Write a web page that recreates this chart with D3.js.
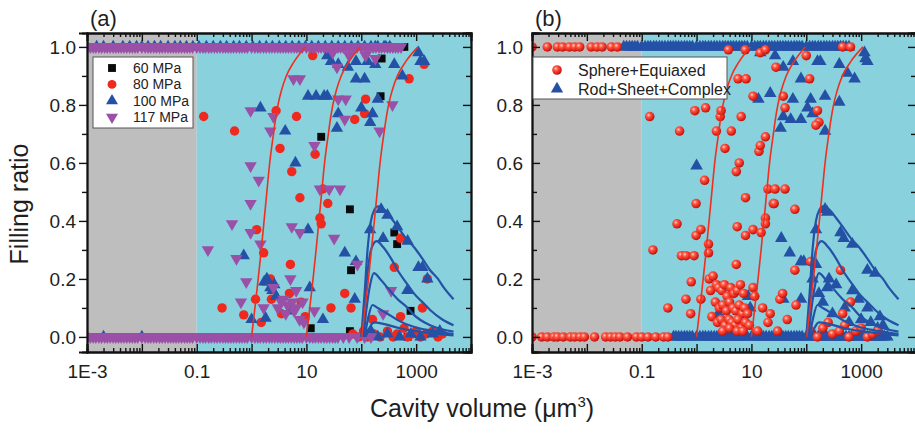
<!DOCTYPE html>
<html><head><meta charset="utf-8">
<script src="https://cdn.jsdelivr.net/npm/d3@7"></script>
<style>body{margin:0;background:#fff}svg{display:block}text{font-family:"Liberation Sans",Arial,Helvetica,sans-serif}</style>
</head><body><svg id="c" width="915" height="435"></svg>
<script>
// ---------------- DATA ----------------
const xTickLabels = [[1e-3,"1E-3"],[0.1,"0.1"],[10,"10"],[1000,"1000"]];
const yMajorTicks = [0,0.2,0.4,0.6,0.8,1.0];
const yMinorTicks = [0.1,0.3,0.5,0.7,0.9];
const grayRange = [1e-3,0.1];
const cyanRange = [0.1,1e4];
const bandTop = 1.0, bandBottom = 0.0;   // filling ratio of the dense bands

// Panel (a) series [volume um^3, filling ratio]
const a60 = [[0.0028,0],[0.0016,1.0],[12,0.03],[18.6,0.69],[62,0.44],[65,0.23],[62,0.02],[225,0.83],[235,0.96],
  [400,0.36],[450,0.32],[610,1.0],[790,0.09],[1000,0.01],[700,0.0]];
const a80 = [[0.001,0],[0.134,0.76],[0.49,0.71],[2.8,0.78],[6.6,0.76],[3.3,0.65],[5.4,0.57],[7.6,0.48],[14.4,0.63],
  [20,0.51],[24.5,0.46],[17.6,0.41],[18.6,0.39],[76,0.75],[120,0.82],[115,0.77],[745,0.89],[1400,0.94],[13,0.97],
  [280,1.0],[330,1.0],[0.29,0.10],[0.72,0.076],[1.24,0.37],[1.66,0.29],[1.18,0.13],[2.3,0.13],[2.2,0.20],[5.1,0.25],
  [4.9,0.15],[65,0.10],[400,0.24],[520,0.34],[1300,0.10],[1600,0.20],[520,0.07],[50,0.15],[28,0.10],[160,0.06],
  [3.5,0.08],[1.5,0.05],[8,0.12],[9.5,0.07],
  [70,0.01],[90,0.0],[110,0.02],[130,0.0],[170,0.01],[220,0.0],[300,0.02],[380,0.0],[450,0.01],[600,0.03],[700,0.0],
  [850,0.01],[1000,0.02],[1200,0.0],[1500,0.01],[2000,0.02],[2500,0.0],[3000,0.01]];
const a100 = [[0.002,0],[0.01,0],
  [1.45,0.79],[4.1,0.71],[6.3,0.60],[10.7,0.83],[15,0.83],[21,0.83],[24,0.83],[24,0.97],[38,0.94],[57,0.93],[80,0.89],
  [115,0.89],[38,0.77],[36,0.72],[100,0.79],[160,0.77],[145,0.74],[200,0.82],[180,1.0],[280,1.0],[400,0.94],[560,0.90],
  [1100,0.98],[1200,0.95],[1400,0.95],[130,0.95],[180,0.94],[28,0.95],[80,0.95],
  [0.72,0.28],[1.9,0.20],[2.6,0.18],[2.2,0.17],[10.7,0.37],[11.5,0.17],[50,0.29],[80,0.26],[76,0.13],[1,0.06],
  [1.8,0.065],[20,0.06],[4.9,0.09],[1100,0.24],[690,0.16],[250,0.34],[145,0.37],[1600,0.20],[2700,0.02],
  [1.7,0.19],[2.0,0.19],[2.4,0.16],[2.8,0.14],[230,0.44],[300,0.42],[450,0.38],[700,0.33],[1300,0.24],
  [120,0.01],[150,0.02],[200,0.0],[300,0.01],[500,0.0],[800,0.01],[1200,0.0],[2000,0.01]];
const a100TopBand = [0.001,0.0015,0.002,0.003,0.0045,0.006,0.008,0.01,0.013,0.017,0.022,0.03,0.04,0.05,0.065,0.085,
  0.11,0.15,0.2,0.27,0.35,0.47,0.6,0.8,1.05,1.4,1.85,2.4,3.2,4.2,5.5,7.3,9.6,12.5,16.5,22,29,38,50,66,87,115,150,200,260,330];
const a117 = [[0.96,0.78],[2.5,0.76],[2.2,0.71],[5.8,0.89],[7.6,0.89],[0.96,0.59],[1.35,0.54],[0.96,0.46],[14,0.66],
  [38,0.82],[52,0.82],[50,0.75],[180,0.96],[215,0.71],[370,0.80],[36,0.93],[17.6,0.51],[26,0.51],[41,0.51],
  [0.16,0.30],[0.44,0.39],[0.53,0.27],[0.64,0.12],[0.8,0.19],[0.96,0.36],[1.45,0.32],[1.66,0.10],[2.5,0.17],
  [3.8,0.13],[5.1,0.20],[5.4,0.38],[7.6,0.36],[6.5,0.16],[6,0.09],[4.2,0.08],[14,0.09],[32,0.34],[85,0.25],
  [350,0.16],[250,0.08],[3,0.1],[3.5,0.12],[4.5,0.11],[5.5,0.12],[6.5,0.1],[7.5,0.06],[8.5,0.12],[9,0.05],
  [60,0.97],[120,0.97],[30,0.98]];
const a117TopBand = [
  0.001,0.00115,0.0013,0.00145,0.00165,0.00185,0.0021,0.00235,0.00265,0.003,0.00335,0.00375,0.0042,0.0047,0.0053,0.006,0.0067,0.0075,0.0084,
  0.01,0.0115,0.013,0.0145,0.0165,0.0185,0.021,0.0235,0.0265,0.03,0.0335,0.0375,0.042,0.047,0.053,0.06,0.067,0.075,0.084,
  0.1,0.115,0.13,0.145,0.165,0.185,0.21,0.235,0.265,0.3,0.335,0.375,0.42,0.47,0.53,0.6,0.67,0.75,0.84,
  1,1.15,1.3,1.45,1.65,1.85,2.1,2.35,2.65,3,3.35,3.75,4.2,4.7,5.3,6,6.7,7.5,8.4,
  10,11.5,13,14.5,16.5,18.5,21,23.5,26.5,30,33.5,37.5,42,47,53,60,67,75,84,
  100,115,130,145,165,185,210,235,265,300,335,375,420,470,530];
const a117BottomBand = [
  0.001,0.00115,0.0013,0.00145,0.00165,0.00185,0.0021,0.00235,0.00265,0.003,0.00335,0.00375,0.0042,0.0047,0.0053,0.006,0.0067,0.0075,0.0084,
  0.01,0.0115,0.013,0.0145,0.0165,0.0185,0.021,0.0235,0.0265,0.03,0.0335,0.0375,0.042,0.047,0.053,0.06,0.067,0.075,0.084,
  0.1,0.115,0.13,0.145,0.165,0.185,0.21,0.235,0.265,0.3,0.335,0.375,0.42,0.47,0.53,0.6,0.67,0.75,0.84,
  1,1.15,1.3,1.45,1.65,1.85,2.1,2.35,2.65,3,3.35,3.75,4.2,4.7,5.3,6,6.7,7.5,8.4,
  10,11.5,13,14.5,16.5,18.5,21,23.5,26.5,30,33.5,37.5,47,60,84,115,150];

// Panel (b) series
const bSphere = [[0.001,0],[0.0015,0],[0.0019,0],[0.0025,0],[0.0029,0],[0.0037,0],[0.005,0],[0.006,0],[0.0075,0],
  [0.009,0],[0.0138,0],[0.022,0],[0.027,0],[0.033,0],[0.04,0],[0.055,0],[0.08,0],[0.1,0],[0.13,0],[0.18,0],[0.25,0],[0.3,0],
  [0.001,1],[0.0019,1],[0.0029,1],[0.0036,1],[0.0048,1],[0.006,1],[0.0074,1],[0.012,1],[0.0153,1],[0.019,1],[0.028,1],[0.036,1],
  [0.14,0.76],[0.49,0.71],[0.93,0.78],[1.46,0.79],[0.98,0.46],[1.4,0.54],[2.3,0.71],[2.7,0.76],[2.8,0.78],[3.3,0.65],
  [4.3,0.71],[6.5,0.76],[6,0.60],[5.3,0.57],[7.8,0.48],[5.7,0.89],[8,0.89],[10.7,0.83],[13.7,0.64],[14.5,0.66],
  [18,0.69],[20,0.51],[27,0.51],[41,0.51],[25,0.46],[62,0.44],[38,0.83],[41,0.79],[28,0.93],[115,0.89],[160,0.78],
  [170,0.74],[150,0.73],[100,0.97],[460,1.0],[640,1.0],[3.8,0.99],[7.7,0.99],[14.5,0.98],[18,0.99],
  [0.16,0.30],[0.44,0.39],[0.3,0.10],[0.53,0.28],[0.64,0.28],[0.9,0.28],[0.8,0.19],[0.64,0.13],[0.78,0.08],
  [0.98,0.35],[1.2,0.37],[1.65,0.32],[1.65,0.29],[1.2,0.13],[5.5,0.38],[7.8,0.35],[5.3,0.25],[10.7,0.37],
  [15,0.36],[18,0.41],[18,0.39],[26,0.46],[10.7,0.17],[11.5,0.14],[16,0.10],[22,0.08],[33,0.13],[37,0.15],
  [45,0.06],[62,0.23],[65,0.11],[120,0.26],[420,0.23],[460,0.08],[640,0.12],
  [1.7,0.20],[2.0,0.21],[2.3,0.18],[1.8,0.16],[2.5,0.17],[2.9,0.16],[3.2,0.18],[3.6,0.14],[4.2,0.17],[4.8,0.15],
  [5.5,0.16],[6.3,0.18],[7.2,0.15],[2.2,0.12],[2.6,0.10],[3.0,0.11],[3.5,0.09],[4.0,0.12],[4.6,0.10],[5.2,0.09],
  [6.0,0.11],[6.8,0.08],[7.5,0.10],[1.9,0.07],[2.4,0.05],[2.8,0.06],[3.3,0.04],[3.9,0.06],[4.4,0.05],[5.0,0.04],
  [5.7,0.06],[6.5,0.03],[7.8,0.05],[8.5,0.08],[9.2,0.04],[3.0,0.02],[4.0,0.03],[5.5,0.02],[7,0.02],
  [13,0.02],[20,0.05],[30,0.02],[120,0.02],[160,0.0],[200,0.03],[250,0.05],[300,0.01],[400,0.02],[500,0.04],
  [600,0.0],[800,0.02],[1000,0.03],[1300,0.0],[1600,0.01],[2000,0.02]];
const bRod = [
  [1.0,0.59],[13.4,0.82],[22,0.84],[38,0.76],[34,0.72],[52,0.75],[80,0.75],[57,0.82],[105,0.79],[120,0.82],
  [130,0.77],[220,0.83],[220,0.71],[400,0.81],[14.5,0.98],[27,0.97],[38,0.93],[57,0.95],[80,0.89],[160,0.95],
  [180,0.95],[400,0.94],[560,0.91],[760,0.89],[1150,0.98],[1300,0.95],[1200,0.96],
  [35,0.34],[50,0.29],[80,0.26],[90,0.26],[38,0.13],[80,0.13],[8.7,0.14],[9.5,0.10],[4.2,0.10],[2.5,0.08],
  [150,0.37],[220,0.44],[240,0.43],[420,0.36],[480,0.34],[690,0.32],[1300,0.23],[1800,0.22],[240,0.17],
  [690,0.16],[1300,0.10],[2200,0.07],[130,0.2],[150,0.25],[170,0.15],[200,0.12],[260,0.2],[300,0.08],[350,0.18],
  [500,0.1],[600,0.05],[900,0.13],[1000,0.06],[1500,0.05],[2000,0.03],[2500,0.04]];
const bRodTopBand = [0.047,0.053,0.06,0.067,0.075,0.084,
  0.1,0.115,0.13,0.145,0.165,0.185,0.21,0.235,0.265,0.3,0.335,0.375,0.42,0.47,0.53,0.6,0.67,0.75,0.84,
  1,1.15,1.3,1.45,1.65,1.85,2.1,2.35,2.65,3,3.35,3.75,4.2,4.7,5.3,6,6.7,7.5,8.4,
  10,11.5,13,14.5,16.5,18.5,21,23.5,26.5,30,33.5,37.5,42,47,53,60,67,75,84,
  100,115,130,145,165,185,210,235,265,300,335,375,420,470,530,600];
const bRodBottomBand = [0.38,0.42,0.47,0.53,0.6,0.67,0.75,0.84,
  1,1.15,1.3,1.45,1.65,1.85,2.1,2.35,2.65,3,3.35,3.75,4.2,4.7,5.3,6,6.7,7.5,8.4,
  10,11.5,13,14.5,16.5,18.5,21,23.5,26.5,30,33.5,37.5,42,47,53,60,67,75,84,
  100,115,130,145,165,185,210,235,265,300,335,375,420,470,530,600,670,750,840,
  1000,1150,1300,1450,1650,1850,2100,2350,2650,3000];

// Fitted curves (same in both panels)
const redCurve1 = [[1.0,0],[1.15,0.1],[1.32,0.2],[1.5,0.3],[1.69,0.4],[1.9,0.5],[2.14,0.6],[2.51,0.7],[2.73,0.75],[3.03,0.8],[3.5,0.85],[4.3,0.9],[6.0,0.95],[9.5,1.0]];
const redCurve2 = [[10,0],[11.5,0.1],[13.2,0.2],[15,0.3],[16.9,0.4],[19,0.5],[21.4,0.6],[25.1,0.7],[27.3,0.75],[30.3,0.8],[35,0.85],[43,0.9],[60,0.95],[96,1.0]];
const redCurve3 = [[102,0],[117,0.1],[135,0.2],[153,0.3],[173,0.4],[195,0.5],[220,0.6],[258,0.7],[282,0.75],[314,0.8],[366,0.85],[455,0.9],[650,0.95],[1080,1.0]];
const blueCurve1 = [[100,0],[115,0.15],[130,0.3],[150,0.4],[175,0.44],[200,0.45],[260,0.44],[350,0.41],[460,0.38],[650,0.34],[910,0.31],[1300,0.27],[1800,0.23],[2500,0.2],[3200,0.17],[4800,0.13]];
const blueCurve2 = [[105,0],[120,0.15],[140,0.27],[165,0.32],[190,0.33],[250,0.31],[350,0.27],[460,0.23],[700,0.18],[910,0.15],[1300,0.12],[1800,0.093],[3000,0.06],[4800,0.04]];
const blueCurve3 = [[110,0],[125,0.1],[145,0.18],[170,0.22],[220,0.2],[300,0.17],[460,0.13],[700,0.1],[910,0.076],[1800,0.04],[4800,0.018]];
const blueCurve4 = [[115,0],[135,0.07],[160,0.11],[200,0.1],[300,0.08],[460,0.058],[900,0.035],[1500,0.025],[4800,0.01]];
const blueCurve5 = [[120,0],[140,0.03],[170,0.05],[250,0.045],[500,0.03],[1000,0.02],[4800,0.005]];

const legendA = ["60 MPa","80 MPa","100 MPa","117 MPa"];
const legendB = ["Sphere+Equiaxed","Rod+Sheet+Complex"];

// ---------------- DRAW ----------------
const svg = d3.select("#c");
const defs = svg.append("defs");
const grad = defs.append("radialGradient").attr("id","sph").attr("cx","38%").attr("cy","35%").attr("r","65%");
grad.append("stop").attr("offset","0%").attr("stop-color","#ffd8d0");
grad.append("stop").attr("offset","30%").attr("stop-color","#ff5a48");
grad.append("stop").attr("offset","75%").attr("stop-color","#e52419");
grad.append("stop").attr("offset","100%").attr("stop-color","#b01810");

const C = {gray:"#bebebe", cyan:"#88d1dd", red:"#f0291f", blue:"#2451a6", purple:"#9b50a8", black:"#0a0a0a", redLine:"#ee3020", blueLine:"#2352a6"};
const TOP=33, BOT=352, PW=384;
const band = (vals, f) => vals.map(v => [v, f]);

function sym(type,size){return d3.symbol().type(type).size(size)();}

function panel(x0, id, series, leftIn, label){
  const x = d3.scaleLog().domain([1e-3,1e4]).range([x0,x0+PW]);
  const y = d3.scaleLinear().domain([-0.052,1.048]).range([BOT,TOP]);
  const g = svg.append("g");
  defs.append("clipPath").attr("id","clip"+id).append("rect")
    .attr("x",x0).attr("y",TOP).attr("width",PW).attr("height",BOT-TOP);
  g.append("rect").attr("x",x(grayRange[0])).attr("y",TOP).attr("width",x(grayRange[1])-x(grayRange[0])).attr("height",BOT-TOP).attr("fill",C.gray);
  g.append("rect").attr("x",x(cyanRange[0])).attr("y",TOP).attr("width",x(cyanRange[1])-x(cyanRange[0])).attr("height",BOT-TOP).attr("fill",C.cyan);
  const pg = g.append("g").attr("clip-path","url(#clip"+id+")");
  series.forEach(s=>{
    pg.append("g").selectAll("path").data(s.data).join("path")
      .attr("d",sym(s.type,s.size))
      .attr("transform",d=>`translate(${x(d[0])},${y(d[1])})`+(s.rot?" rotate(180)":""))
      .attr("fill",s.fill).attr("stroke",s.stroke||"none").attr("stroke-width",0.4);
  });
  const line = d3.line().x(d=>x(d[0])).y(d=>y(d[1])).curve(d3.curveMonotoneX);
  [blueCurve1,blueCurve2,blueCurve3,blueCurve4,blueCurve5].forEach(c=>
    pg.append("path").attr("d",line(c)).attr("fill","none").attr("stroke",C.blueLine).attr("stroke-width",2.2));
  [redCurve1,redCurve2,redCurve3].forEach(c=>
    pg.append("path").attr("d",line(c)).attr("fill","none").attr("stroke",C.redLine).attr("stroke-width",1.6));

  // axes
  const majors = d3.range(-3,5).map(e=>Math.pow(10,e));
  const minors = x.ticks().filter(v=>!majors.some(m=>Math.abs(m-v)/m<1e-6));
  const styleAxis = a=>{a.select(".domain").attr("stroke","#111").attr("stroke-width",1.8);
    a.selectAll(".tick line").attr("stroke","#111").attr("stroke-width",1.4);
    a.selectAll("text").attr("font-size",19).attr("fill","#1e1e1e").attr("font-family",'"Liberation Sans",Arial,sans-serif');};
  const ax = g.append("g").attr("transform",`translate(0,${BOT})`)
    .call(d3.axisBottom(x).tickValues(majors).tickSize(-8).tickPadding(13)
      .tickFormat(v=>{for(const [k,t] of xTickLabels){if(Math.abs(k-v)/k<1e-6)return t;}return "";}));
  styleAxis(ax);
  styleAxis(g.append("g").attr("transform",`translate(0,${BOT})`).call(d3.axisBottom(x).tickValues(minors).tickSize(-4).tickFormat("")));
  styleAxis(g.append("g").attr("transform",`translate(0,${TOP})`).call(d3.axisTop(x).tickValues(majors).tickSize(-8).tickFormat("")));
  styleAxis(g.append("g").attr("transform",`translate(0,${TOP})`).call(d3.axisTop(x).tickValues(minors).tickSize(-4).tickFormat("")));
  const ly = g.append("g").attr("transform",`translate(${x0},0)`)
    .call(d3.axisLeft(y).tickValues(yMajorTicks).tickSize(leftIn?-8:8).tickPadding(leftIn?9:3).tickFormat(d3.format(".1f")));
  styleAxis(ly);
  styleAxis(g.append("g").attr("transform",`translate(${x0},0)`).call(d3.axisLeft(y).tickValues(yMinorTicks).tickSize(leftIn?-5:5).tickFormat("")));
  styleAxis(g.append("g").attr("transform",`translate(${x0+PW},0)`).call(d3.axisRight(y).tickValues(yMajorTicks).tickSize(-8).tickFormat("")));
  styleAxis(g.append("g").attr("transform",`translate(${x0+PW},0)`).call(d3.axisRight(y).tickValues(yMinorTicks).tickSize(-5).tickFormat("")));
  g.append("text").attr("x",x0+3).attr("y",26).attr("font-size",22).attr("fill","#1e1e1e").text(label);
  return {x,y,g};
}

// Panel (a)
panel(87,"a",[
  {data:a60,type:d3.symbolSquare,size:62,fill:C.black},
  {data:a80,type:d3.symbolCircle,size:70,fill:C.red},
  {data:a100.concat(band(a100TopBand,bandTop)),type:d3.symbolTriangle,size:66,fill:C.blue},
  {data:a117.concat(band(a117TopBand,bandTop),band(a117BottomBand,bandBottom)),type:d3.symbolTriangle,size:66,fill:C.purple,rot:true}
],false,"(a)");
// Panel (b)
panel(532,"b",[
  {data:bRod.concat(band(bRodTopBand,bandTop),band(bRodBottomBand,bandBottom)),type:d3.symbolTriangle,size:68,fill:C.blue},
  {data:bSphere,type:d3.symbolCircle,size:72,fill:"url(#sph)"}
],true,"(b)");

// Legend (a)
const la = svg.append("g");
la.append("rect").attr("x",93).attr("y",57).attr("width",100).attr("height",71).attr("fill","#fff").attr("stroke","#555").attr("stroke-width",1);
const laSpec = [{type:d3.symbolSquare,fill:C.black},{type:d3.symbolCircle,fill:C.red},{type:d3.symbolTriangle,fill:C.blue},{type:d3.symbolTriangle,fill:C.purple,rot:true}];
legendA.forEach((t,i)=>{
  const yy = 68+i*16.4;
  la.append("path").attr("d",sym(laSpec[i].type,62)).attr("fill",laSpec[i].fill)
    .attr("transform",`translate(112,${yy})`+(laSpec[i].rot?" rotate(180)":""));
  la.append("text").attr("x",133).attr("y",yy).attr("dy","0.36em").attr("font-size",14).attr("fill","#222").text(t);
});
// Legend (b)
const lb = svg.append("g");
lb.append("rect").attr("x",533).attr("y",57).attr("width",194).attr("height",42).attr("fill","#fff").attr("stroke","#555").attr("stroke-width",1);
lb.append("path").attr("d",sym(d3.symbolCircle,72)).attr("fill","url(#sph)").attr("transform","translate(557,70)");
lb.append("path").attr("d",sym(d3.symbolTriangle,66)).attr("fill",C.blue).attr("transform","translate(557,89)");
legendB.forEach((t,i)=>lb.append("text").attr("x",578).attr("y",70+i*19).attr("dy","0.36em").attr("font-size",16).attr("fill","#222").text(t));

// Axis titles
svg.append("text").attr("transform","translate(28,204) rotate(-90)").attr("text-anchor","middle").attr("font-size",25).attr("fill","#1e1e1e").text("Filling ratio");
const xt = svg.append("text").attr("x",482).attr("y",417).attr("text-anchor","middle").attr("font-size",25).attr("fill","#1e1e1e");
xt.append("tspan").text("Cavity volume (\u03bcm");
xt.append("tspan").attr("dy",-10).attr("font-size",15).text("3");
xt.append("tspan").attr("dy",10).text(")");
</script></body></html>
